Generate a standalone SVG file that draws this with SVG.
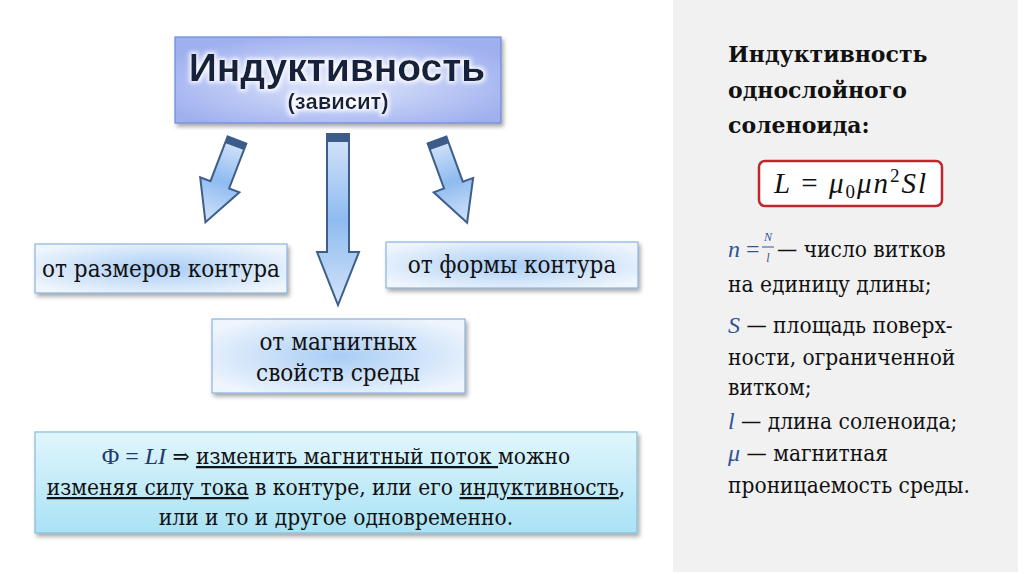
<svg xmlns="http://www.w3.org/2000/svg" width="1024" height="574" viewBox="0 0 1024 574">
<defs>
<style>
.serif{font-family:"DejaVu Serif",serif;font-stretch:condensed;fill:#111}
.box{font-size:24px;text-anchor:middle}
.math{font-family:"Liberation Serif","DejaVu Serif",serif;font-style:italic;font-stretch:normal;fill:#2e5597}
.arrow{stroke:#3e5e8c;stroke-width:2;stroke-linejoin:miter;fill:url(#arrowGrad)}
.cap{fill:#3b5b88}
.u{text-decoration:underline}
</style>
<linearGradient id="arrowGrad" x1="0" y1="0" x2="0" y2="1">
<stop offset="0" stop-color="#d6e5fa"/>
<stop offset="0.5" stop-color="#8fbbf0"/>
<stop offset="1" stop-color="#d3e4f9"/>
</linearGradient>
<radialGradient id="boxGrad" cx="0.5" cy="0.5" r="0.6">
<stop offset="0" stop-color="#a9cdf5"/>
<stop offset="1" stop-color="#eef5fd"/>
</radialGradient>
<radialGradient id="topGrad" cx="0.5" cy="0.55" r="0.6">
<stop offset="0" stop-color="#dfe6fb"/>
<stop offset="1" stop-color="#9fb0ef"/>
</radialGradient>
<linearGradient id="bottomGrad" x1="0" y1="0" x2="0" y2="1">
<stop offset="0" stop-color="#e0f6fc"/>
<stop offset="1" stop-color="#a9e2f5"/>
</linearGradient>
<filter id="shadow" x="-10%" y="-20%" width="125%" height="150%">
<feDropShadow dx="2" dy="3" stdDeviation="2" flood-color="#000" flood-opacity="0.35"/>
</filter>
<filter id="glow" x="-10%" y="-30%" width="120%" height="160%">
<feMorphology in="SourceAlpha" operator="dilate" radius="2" result="d"/>
<feGaussianBlur in="d" stdDeviation="2" result="b"/>
<feFlood flood-color="#ffffff" flood-opacity="0.9"/>
<feComposite in2="b" operator="in" result="g"/>
<feMerge><feMergeNode in="g"/><feMergeNode in="SourceGraphic"/></feMerge>
</filter>
</defs>

<rect x="0" y="0" width="1024" height="574" fill="#ffffff"/>
<rect id="panel" x="673" y="0" width="345" height="572" fill="#f1f1f1"/>

<g id="title">
<rect x="175" y="37" width="326" height="86" fill="url(#topGrad)" stroke="#6d8bd6" stroke-width="1.2" filter="url(#shadow)"/>
<g filter="url(#glow)" font-family="Liberation Sans, Arial, sans-serif" font-weight="bold" fill="#18233c" text-anchor="middle">
<text x="337" y="81" font-size="39">Индуктивность</text>
<text x="338" y="109" font-size="22">(зависит)</text>
</g>
</g>

<g id="connectors">
<g transform="translate(237,140) rotate(21)">
<path class="arrow" d="M-10,0 L10,0 L10,48 L21,48 L0,88 L-21,48 L-10,48 Z"/>
<rect class="cap" x="-10" y="0" width="20" height="7"/>
</g>
<g transform="translate(437,140) rotate(-20)">
<path class="arrow" d="M-10,0 L10,0 L10,48 L21,48 L0,88 L-21,48 L-10,48 Z"/>
<rect class="cap" x="-10" y="0" width="20" height="7"/>
</g>
<g transform="translate(338,134)">
<path class="arrow" d="M-11,0 L11,0 L11,118 L21,118 L0,171 L-21,118 L-11,118 Z"/>
<rect class="cap" x="-11" y="0" width="22" height="8"/>
</g>
</g>

<g id="node-size">
<rect x="35" y="244" width="252" height="49" fill="url(#boxGrad)" stroke="#7aa6d6" stroke-width="1" filter="url(#shadow)"/>
<text class="serif box" x="161" y="277">от размеров контура</text>
</g>

<g id="node-shape">
<rect x="386" y="242" width="252" height="46" fill="url(#boxGrad)" stroke="#7aa6d6" stroke-width="1" filter="url(#shadow)"/>
<text class="serif box" x="512" y="273">от формы контура</text>
</g>

<g id="node-medium">
<rect x="212" y="319" width="253" height="74" fill="url(#boxGrad)" stroke="#7aa6d6" stroke-width="1" filter="url(#shadow)"/>
<text class="serif box" x="338" y="350">от магнитных</text>
<text class="serif box" x="338" y="381">свойств среды</text>
</g>

<g id="node-flux">
<rect x="35" y="432" width="602" height="101" fill="url(#bottomGrad)" stroke="#86bcd8" stroke-width="1.2" filter="url(#shadow)"/>
<g class="serif" font-size="22.5" text-anchor="middle">
<text x="336" y="464"><tspan fill="#1f3a6e" font-family="Liberation Serif" font-size="24">Φ = </tspan><tspan fill="#1f3a6e" font-family="Liberation Serif" font-style="italic" font-size="24">LI</tspan>  ⇒ <tspan class="u">изменить магнитный поток </tspan>можно</text>
<text x="336" y="495"><tspan class="u">изменяя силу тока</tspan> в контуре, или его <tspan class="u">индуктивность</tspan>,</text>
<text x="336" y="525">или и то и другое одновременно.</text>
</g>
</g>

<g id="solenoid-title" font-family="DejaVu Serif" fill="#111" font-size="22" font-weight="bold">
<text x="728" y="62">Индуктивность</text>
<text x="728" y="98">однослойного</text>
<text x="728" y="133">соленоида:</text>
</g>

<g id="formula">
<rect x="759" y="161" width="183" height="45" rx="6" ry="6" fill="#ffffff" stroke="#c0272d" stroke-width="2.5"/>
<text x="851" y="193" text-anchor="middle" font-family="Liberation Serif" font-size="29" letter-spacing="2" fill="#111"><tspan font-style="italic">L</tspan> = <tspan font-style="italic">μ</tspan><tspan font-size="19" dy="5">0</tspan><tspan font-style="italic" dy="-5">μn</tspan><tspan font-size="19" dy="-11">2</tspan><tspan font-style="italic" dy="11">Sl</tspan></text>
</g>

<g id="legend" class="serif" font-size="22.5">
<text x="728" y="257"><tspan class="math" font-size="24">n</tspan><tspan fill="#2e5597" font-family="Liberation Serif" font-size="24"> =</tspan></text>
<text x="768" y="241" class="math" font-size="12" text-anchor="middle">N</text>
<line x1="762" y1="247" x2="774" y2="247" stroke="#2e5597" stroke-width="1"/>
<text x="768" y="262" class="math" font-size="12" text-anchor="middle">l</text>
<text x="777" y="257">— число витков</text>
<text x="728" y="292">на единицу длины;</text>
<text x="728" y="333"><tspan class="math" font-size="24">S</tspan> — площадь поверх-</text>
<text x="728" y="365">ности, ограниченной</text>
<text x="728" y="395">витком;</text>
<text x="728" y="429"><tspan class="math" font-size="24">l</tspan> — длина соленоида;</text>
<text x="728" y="461"><tspan class="math" font-size="24">μ</tspan> — магнитная</text>
<text x="728" y="493">проницаемость среды.</text>
</g>
</svg>
